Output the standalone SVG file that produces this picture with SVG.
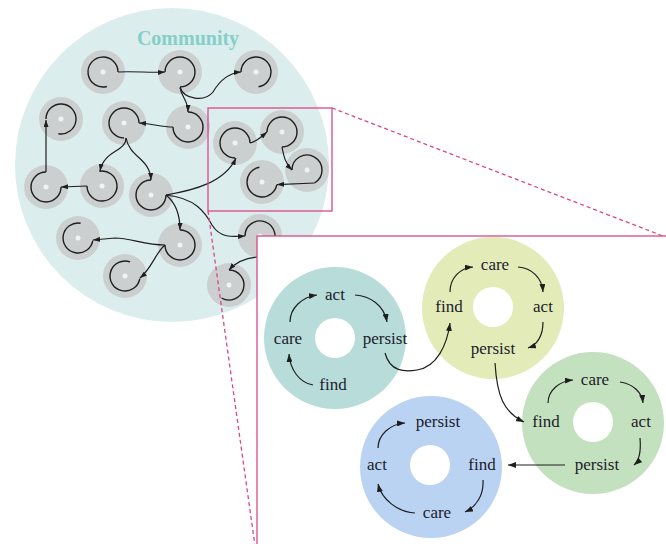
<svg xmlns="http://www.w3.org/2000/svg" width="666" height="544" viewBox="0 0 666 544">
<defs>
<style>
.gray{fill:#cbcfcf}
.dot{fill:#eef3f3}
.arc{fill:none;stroke:#1e1e1e;stroke-width:1.4}
.con{fill:none;stroke:#1e1e1e;stroke-width:1.2}
.lbl{font-family:"Liberation Serif",serif;font-size:17px;fill:#1c1c2c;text-anchor:middle}
.pink{fill:none;stroke:#d9478c;stroke-width:1.3}
.dash{fill:none;stroke:#d9478c;stroke-width:1.3;stroke-dasharray:4 3}
</style>
<marker id="ah" viewBox="0 0 8 6" refX="8" refY="3" markerWidth="8" markerHeight="6" markerUnits="userSpaceOnUse" orient="auto">
<path d="M0,0 L8,3 L0,6 z" fill="#1e1e1e"/>
</marker>
<marker id="as" viewBox="0 0 7 5" refX="7" refY="2.5" markerWidth="7" markerHeight="5" markerUnits="userSpaceOnUse" orient="auto">
<path d="M0,0 L7,2.5 L0,5 z" fill="#1e1e1e"/>
</marker>
</defs>

<g id="community">
<circle cx="172" cy="165" r="157" fill="#dcedee"/>
<text x="188" y="45" font-family="Liberation Serif,serif" font-size="20" font-weight="bold" fill="#85cfc9" text-anchor="middle">Community</text>
</g>

<g id="n1"><circle class="gray" cx="103" cy="72" r="22"/><circle class="dot" cx="103" cy="72" r="2.5"/><path class="arc" d="M106.9,86.5 A15,15 0 1 1 118,72"/></g>
<g id="n2"><circle class="gray" cx="180" cy="72" r="22"/><circle class="dot" cx="180" cy="72" r="2.5"/><path class="arc" d="M165,72 A15,15 0 1 1 180,87"/></g>
<g id="n3"><circle class="gray" cx="256" cy="72" r="22"/><circle class="dot" cx="256" cy="72" r="2.5"/><path class="arc" d="M241,72 A15,15 0 1 1 258.6,86.8"/></g>
<g id="n4"><circle class="gray" cx="61" cy="119" r="22"/><circle class="dot" cx="61" cy="119" r="2.5"/><path class="arc" d="M46,119 A15,15 0 1 1 58.4,133.8"/></g>
<g id="n5"><circle class="gray" cx="124" cy="123" r="22"/><circle class="dot" cx="124" cy="123" r="2.5"/><path class="arc" d="M124,138 A15,15 0 1 1 139,123"/></g>
<g id="n6"><circle class="gray" cx="188" cy="127" r="22"/><circle class="dot" cx="188" cy="127" r="2.5"/><path class="arc" d="M188,112 A15,15 0 1 1 173,127"/></g>
<g id="n7"><circle class="gray" cx="235" cy="143" r="22"/><circle class="dot" cx="235" cy="143" r="2.5"/><path class="arc" d="M235,158 A15,15 0 1 1 250,143"/></g>
<g id="n8"><circle class="gray" cx="282" cy="132" r="22"/><circle class="dot" cx="282" cy="132" r="2.5"/><path class="arc" d="M267,132 A15,15 0 1 1 282,147"/></g>
<g id="n9"><circle class="gray" cx="307" cy="170" r="22"/><circle class="dot" cx="307" cy="170" r="2.5"/><path class="arc" d="M292,170 A15,15 0 1 1 314.5,183"/></g>
<g id="n10"><circle class="gray" cx="262" cy="182" r="22"/><circle class="dot" cx="262" cy="182" r="2.5"/><path class="arc" d="M276.8,184.6 A15,15 0 1 1 259.4,167.2"/></g>
<g id="n11"><circle class="gray" cx="46" cy="187" r="22"/><circle class="dot" cx="46" cy="187" r="2.5"/><path class="arc" d="M61,187 A15,15 0 1 1 46,172"/></g>
<g id="n12"><circle class="gray" cx="102" cy="186" r="22"/><circle class="dot" cx="102" cy="186" r="2.5"/><path class="arc" d="M99.4,171.2 A15,15 0 1 1 87,186"/></g>
<g id="n13"><circle class="gray" cx="151" cy="195" r="22"/><circle class="dot" cx="151" cy="195" r="2.5"/><path class="arc" d="M166,195 A15,15 0 1 1 151,180"/></g>
<g id="n14"><circle class="gray" cx="78" cy="238" r="22"/><circle class="dot" cx="78" cy="238" r="2.5"/><path class="arc" d="M92.8,240.6 A15,15 0 1 1 80.6,223.2"/></g>
<g id="n15"><circle class="gray" cx="180" cy="245" r="22"/><circle class="dot" cx="180" cy="245" r="2.5"/><path class="arc" d="M180,230 A15,15 0 1 1 165,245"/></g>
<g id="n16"><circle class="gray" cx="125" cy="276" r="22"/><circle class="dot" cx="125" cy="276" r="2.5"/><path class="arc" d="M139.8,278.6 A15,15 0 1 1 130.1,261.9"/></g>
<g id="n17"><circle class="gray" cx="260" cy="236" r="22"/><circle class="dot" cx="260" cy="236" r="2.5"/><path class="arc" d="M245,236 A15,15 0 1 1 271.5,245.6"/></g>
<g id="n18"><circle class="gray" cx="229" cy="285" r="22"/><circle class="dot" cx="229" cy="285" r="2.5"/><path class="arc" d="M229,270 A15,15 0 1 1 221.5,298"/></g>

<g id="community-connectors">
<path class="con" marker-end="url(#as)" d="M118,72 C135,71 150,73 165,72"/>
<path class="con" marker-end="url(#as)" d="M180,87 C184,100 205,102 213,92 C220,80 228,73 241,72"/>
<path class="con" marker-end="url(#as)" d="M180,88 C182,98 188,100 188,112"/>
<path class="con" marker-end="url(#as)" d="M173,127 C160,127 155,124 139,123"/>
<path class="con" marker-end="url(#as)" d="M126,138 C126,152 104,150 100,171"/>
<path class="con" marker-end="url(#as)" d="M126,138 C130,158 150,158 151,180"/>
<path class="con" marker-end="url(#as)" d="M87,186 L61,187"/>
<path class="con" marker-end="url(#as)" d="M46,172 L46,120"/>
<path class="con" marker-end="url(#as)" d="M166,195 C195,190 225,182 236,158"/>
<path class="con" marker-end="url(#as)" d="M166,195 C176,203 180,215 180,230"/>
<path class="con" marker-end="url(#as)" d="M166,195 C195,198 205,212 212,225 C220,238 232,237 245,236"/>
<path class="con" marker-end="url(#as)" d="M165,245 C145,245 130,238 115,238 L93,240"/>
<path class="con" marker-end="url(#as)" d="M165,245 C156,252 152,268 140,278"/>
<path class="con" marker-end="url(#as)" d="M250,143 C256,142 260,138 267,132"/>
<path class="con" marker-end="url(#as)" d="M282,147 C284,158 286,164 292,170"/>
<path class="con" marker-end="url(#as)" d="M314.5,183 L277,184.6"/>
<path class="con" marker-end="url(#as)" d="M257,257 C246,258 236,262 229,270"/>
</g>

<g id="zoom-frame">
<rect class="pink" x="208" y="108" width="124" height="103"/>
<line class="dash" x1="332" y1="108" x2="668" y2="238"/>
<line class="dash" x1="208" y1="211" x2="257" y2="560"/>
<rect x="257" y="236" width="420" height="320" fill="#ffffff" stroke="#d9478c" stroke-width="1.3"/>
</g>

<g id="teal">
<circle cx="335" cy="338" r="71" fill="#b7dcd9"/>
<circle cx="335" cy="338" r="20" fill="#ffffff"/>
<text class="lbl" x="335" y="300">act</text>
<text class="lbl" x="288" y="344">care</text>
<text class="lbl" x="385" y="344">persist</text>
<text class="lbl" x="333" y="390">find</text>
<path class="con" marker-end="url(#ah)" d="M290,322 C290,308 302,297 317,295"/>
<path class="con" marker-end="url(#ah)" d="M355,295 C370,296 384,305 387,322"/>
<path class="con" marker-end="url(#ah)" d="M313,385 C300,383 290,370 289,354"/>
</g>

<g id="yellow">
<circle cx="493" cy="308" r="71" fill="#e3ecb9"/>
<circle cx="493" cy="307" r="20" fill="#ffffff"/>
<text class="lbl" x="495" y="270">care</text>
<text class="lbl" x="449" y="312">find</text>
<text class="lbl" x="543" y="312">act</text>
<text class="lbl" x="493" y="354">persist</text>
<path class="con" marker-end="url(#ah)" d="M450,292 C450,278 460,268 473,267"/>
<path class="con" marker-end="url(#ah)" d="M518,267 C532,268 542,278 543,292"/>
<path class="con" marker-end="url(#ah)" d="M543,322 C543,336 537,345 528,348"/>
</g>

<g id="green">
<circle cx="593" cy="423" r="71" fill="#c4e1bf"/>
<circle cx="593" cy="422" r="20" fill="#ffffff"/>
<text class="lbl" x="595" y="385">care</text>
<text class="lbl" x="546" y="427">find</text>
<text class="lbl" x="641" y="427">act</text>
<text class="lbl" x="597" y="470">persist</text>
<path class="con" marker-end="url(#ah)" d="M548,403 C548,390 560,381 573,380"/>
<path class="con" marker-end="url(#ah)" d="M620,382 C634,384 642,393 643,403"/>
<path class="con" marker-end="url(#ah)" d="M640,438 C641,450 640,460 634,465"/>
</g>

<g id="blue">
<circle cx="431" cy="467" r="71" fill="#bad3f3"/>
<circle cx="430" cy="465" r="20" fill="#ffffff"/>
<text class="lbl" x="438" y="427">persist</text>
<text class="lbl" x="377" y="470">act</text>
<text class="lbl" x="482" y="470">find</text>
<text class="lbl" x="437" y="518">care</text>
<path class="con" marker-end="url(#ah)" d="M378,448 C378,435 390,424 405,423"/>
<path class="con" marker-end="url(#ah)" d="M483,480 C484,495 476,507 465,512"/>
<path class="con" marker-end="url(#ah)" d="M415,513 C398,512 382,500 378,484"/>
</g>

<g id="cycle-connectors">
<path class="con" marker-end="url(#ah)" d="M385,353 C390,372 405,372 417,370 C437,367 447,345 450,323"/>
<path class="con" marker-end="url(#ah)" d="M495,363 C497,395 503,412 524,422"/>
<path class="con" marker-end="url(#ah)" d="M565,465 L508,465"/>
</g>
</svg>
